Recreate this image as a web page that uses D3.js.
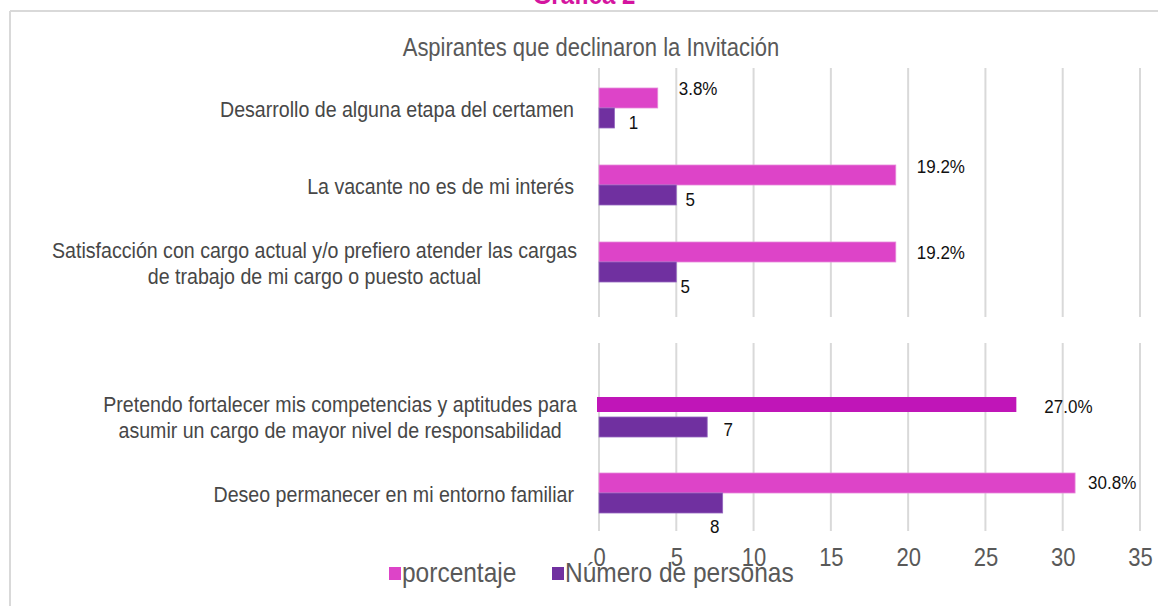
<!DOCTYPE html>
<html>
<head>
<meta charset="utf-8">
<script src="https://cdn.jsdelivr.net/npm/d3@7"></script>
<style>
  body { margin: 0; background: #fff; }
  svg { display: block; }
</style>
</head>
<body>
<div id="chart"></div>
<script>
// datos de la gráfica
const categories = [
    ["Desarrollo de alguna etapa del certamen"],
    ["La vacante no es de mi interés "],
    ["Satisfacción con cargo actual y/o prefiero atender las cargas", "de trabajo de mi cargo o puesto actual"],
    ["Pretendo fortalecer mis competencias y aptitudes para", "asumir un cargo de mayor nivel de responsabilidad"],
    ["Deseo permanecer en mi entorno familiar"]
];
const porcentaje = [3.8, 19.2, 19.2, 27.0, 30.8];
const personas = [1, 5, 5, 7, 8];
const seriesNames = ["porcentaje", "Número de personas"];
const xTicks = [0, 5, 10, 15, 20, 25, 30, 35];
const chartTitle = "Aspirantes que declinaron la Invitación";
const pageTitle = "Gráfica 2";

// ajustes de las etiquetas (puestas a mano en el original)
const pctDx = [21, 21, 21, 28, 13];
const pctDy = [-9, -8, 1, 1, 0];
const numDx = [19, 14, 9, 21, -8];
const numDy = [5, 5, 15, 4, 24];

const W = 1158, H = 606;
const SY = 1.13;   // el original esta un poco estirado en vertical
const font = "'Liberation Sans', Arial, sans-serif";
const pink = "#DD44C8", pinkDark = "#C015B8", purple = "#7030A0";

const svg = d3.select("#chart").append("svg")
    .attr("width", W).attr("height", H)
    .style("font-family", font);

function addText(g, x, y, str, size, fill, anchor, weight) {
    return g.append("text")
        .attr("transform", "translate(" + x + "," + y + ") scale(1," + SY + ")")
        .attr("font-size", size)
        .attr("fill", fill)
        .attr("text-anchor", anchor || "start")
        .attr("font-weight", weight || "normal")
        .text(str);
}

// marco
svg.append("line").attr("x1", 10).attr("x2", W).attr("y1", 11).attr("y2", 11)
    .attr("stroke", "#d9d9d9").attr("stroke-width", 2);
svg.append("line").attr("x1", 10).attr("x2", 10).attr("y1", 11).attr("y2", H)
    .attr("stroke", "#d9d9d9").attr("stroke-width", 2);

addText(svg, 584, 4, pageTitle, 24, "#D4159F", "middle", "bold");
addText(svg, 591, 56, chartTitle, 22, "#595959", "middle");

// escalas
const xs = d3.scaleLinear().domain([0, 35]).range([599, 1140]);
const slots = [0, 1, 2, "gap", 3, 4];
const ys = d3.scaleBand().domain(slots).range([69.5, 531.5]).padding(0);
const center = k => ys(k) + ys.bandwidth() / 2;

// rejilla vertical, cortada en el hueco
const gapC = center("gap");
const segs = [[68, gapC - 22], [gapC + 4, 531]];
segs.forEach(s => {
    svg.append("g").selectAll("line").data(xTicks).join("line")
        .attr("x1", d => xs(d)).attr("x2", d => xs(d))
        .attr("y1", s[0]).attr("y2", s[1])
        .attr("stroke", "#d9d9d9").attr("stroke-width", 2);
});

// barras
const bars = svg.append("g");
porcentaje.forEach((v, i) => {
    const c = center(i);
    const special = i === 3;
    bars.append("rect")
        .attr("x", special ? xs(0) - 2 : xs(0))
        .attr("y", special ? c - 19 : c - 20)
        .attr("width", xs(v) - xs(0) + (special ? 2 : 0))
        .attr("height", special ? 15 : 20)
        .attr("fill", special ? pinkDark : pink)
        .attr("stroke", special ? "none" : "#E78AD9").attr("stroke-width", 0.8);
    bars.append("rect")
        .attr("x", xs(0))
        .attr("y", special ? c + 1 : c)
        .attr("width", xs(personas[i]) - xs(0))
        .attr("height", 20)
        .attr("fill", purple)
        .attr("stroke", "#9466BF").attr("stroke-width", 0.8);
});

// etiquetas de datos
const labels = svg.append("g");
porcentaje.forEach((v, i) => {
    const c = center(i);
    addText(labels, xs(v) + pctDx[i], c - 10 + pctDy[i] + 6, v.toFixed(1) + "%", 17, "#111");
    addText(labels, xs(personas[i]) + numDx[i], c + 10 + numDy[i] + 6, personas[i], 17, "#111", "middle");
});

// etiquetas de categorias
const catSize = 19.6, catFill = "#474747";
const cats = svg.append("g");
categories.forEach((lines, i) => {
    const c = center(i) + 2;
    if (lines.length === 1) {
        addText(cats, 574, c + 7, lines[0], catSize, catFill, "end");
    } else {
        const t = lines.map((l, j) => addText(cats, 0, c - 13 + j * 26 + 7, l, catSize, catFill, "middle"));
        const maxW = d3.max(t, n => n.node().getComputedTextLength());
        const cx = 577 - maxW / 2;
        t.forEach((n, j) => n.attr("transform", "translate(" + cx + "," + (c - 13 + j * 26 + 7) + ") scale(1," + SY + ")"));
    }
});

// eje x
const axis = svg.append("g").attr("transform", "translate(0,566)")
    .call(d3.axisBottom(xs).tickValues(xTicks).tickSize(0).tickPadding(0));
axis.select(".domain").remove();
axis.selectAll("text")
    .attr("y", null).attr("dy", null)
    .attr("transform", "scale(1," + SY + ")")
    .attr("font-size", 22).attr("font-family", font).attr("fill", "#595959");

// leyenda
const leg = svg.append("g");
const legX = [389, 552];
const legColors = [pink, purple];
seriesNames.forEach((n, i) => {
    leg.append("rect").attr("x", legX[i]).attr("y", 567).attr("width", 12).attr("height", 13)
        .attr("fill", legColors[i]);
    addText(leg, legX[i] + 13, 582, n, 24.5, "#595959");
});
</script>
</body>
</html>
